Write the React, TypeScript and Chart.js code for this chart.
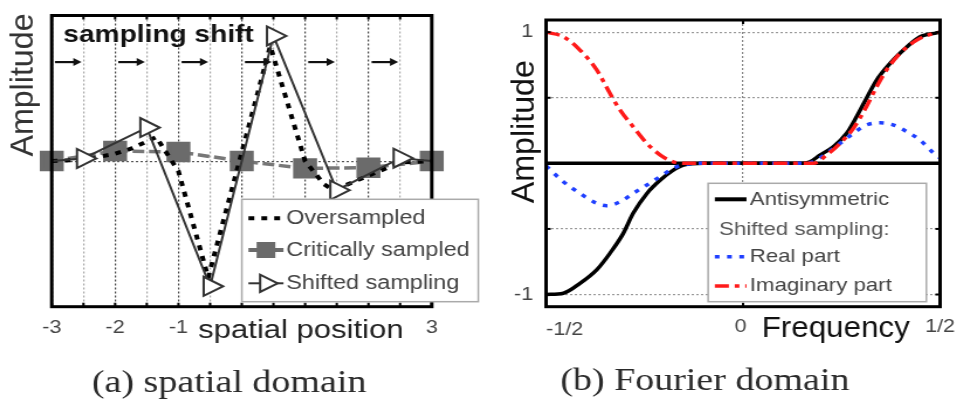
import React, { useEffect, useRef } from "react";
import { Chart, registerables } from "chart.js";

Chart.register(...registerables);

// ---------- (a) spatial domain ----------
const criticalX = [-3, -2, -1, 0, 1, 2, 3];
const criticalY = [0, 0.07, 0.063, 0, -0.05, -0.045, 0];
const shiftedX = [-3, -2.5, -1.5, -0.5, 0.5, 1.5, 2.5, 3];
const shiftedY = [0, 0.018, 0.23, -0.86, 0.86, -0.2, 0.02, 0];
const shiftedMarked = [false, true, true, true, true, true, true, false];
const overX = [-3, -2.5, -2, -1.75, -1.35, -1, -0.53, 0.45, 1, 1.3, 1.45, 2, 2.5, 3];
const overY = [0, 0.01, 0.05, 0.085, 0.165, -0.07, -0.8, 0.79, 0, -0.16, -0.2, -0.1, -0.01, 0];
const arrowFrom = [-2.95, -1.95, -0.95, 0.05, 1.05, 2.05];
const arrowTo = [-2.53, -1.53, -0.53, 0.47, 1.47, 2.47];
const arrowLevel = 0.68;
const spatialTickValues = [-3, -2, -1, 3];
const spatialTickLabels = ["-3", "-2", "-1", "3"];
const spatialLegend = ["Oversampled", "Critically sampled", "Shifted sampling"];

// ---------- (b) Fourier domain ----------
const antiX = [-0.5, -0.456, -0.414, -0.371, -0.338, -0.304, -0.279, -0.244, -0.21, -0.177, -0.151, -0.1, 0, 0.1, 0.15, 0.17, 0.195, 0.229, 0.263, 0.288, 0.313, 0.339, 0.373, 0.407, 0.449, 0.492, 0.5];
const antiY = [-1, -0.99, -0.915, -0.81, -0.686, -0.534, -0.381, -0.229, -0.127, -0.051, -0.013, 0, 0, 0, 0, 0.012, 0.063, 0.127, 0.229, 0.355, 0.495, 0.635, 0.762, 0.864, 0.965, 0.995, 1];
const realX = [-0.5, -0.456, -0.414, -0.371, -0.346, -0.312, -0.279, -0.244, -0.21, -0.177, -0.151, -0.1, 0, 0.1, 0.15, 0.178, 0.212, 0.246, 0.28, 0.313, 0.348, 0.382, 0.416, 0.449, 0.483, 0.5];
const realY = [-0.02, -0.14, -0.229, -0.305, -0.323, -0.293, -0.229, -0.165, -0.1, -0.038, -0.01, 0, 0, 0, 0, 0.012, 0.076, 0.152, 0.229, 0.292, 0.309, 0.292, 0.241, 0.178, 0.08, 0.04];
const imagX = [-0.5, -0.456, -0.414, -0.371, -0.338, -0.312, -0.279, -0.244, -0.21, -0.177, -0.15, -0.1, 0, 0.1, 0.15, 0.178, 0.212, 0.246, 0.28, 0.313, 0.339, 0.364, 0.398, 0.441, 0.483, 0.5];
const imagY = [1.0, 0.965, 0.864, 0.711, 0.534, 0.406, 0.279, 0.152, 0.063, 0.012, 0, 0, 0, 0, 0, 0, 0.063, 0.152, 0.267, 0.431, 0.584, 0.711, 0.838, 0.94, 0.99, 1.0];
const freqTickValues = [-0.5, 0, 0.5];
const freqTickLabels = ["-1/2", "0", "1/2"];
const ampTickValues = [1, -1];
const ampTickLabels = ["1", "-1"];
const ampGridValues = [-1, -0.5, 0, 0.5, 1];
const fourierLegend = ["Antisymmetric", "Shifted sampling:", "Real part", "Imaginary part"];

const SX = 1.17; // horizontal stretch of the figure
const SANS = '"Liberation Sans", Arial, sans-serif';
const SERIF = '"Liberation Serif", "Times New Roman", serif';
const BLUE_DASH = [4, 6.5];
const RED_DASH = [12, 5, 4, 5];

const pts = (xs: number[], ys: number[]) => xs.map((x, i) => ({ x, y: ys[i] }));

function txt(ctx: CanvasRenderingContext2D, s: string, x: number, y: number, o: any) {
  ctx.save();
  ctx.translate(x, y);
  if (o.rot) ctx.rotate(o.rot);
  ctx.scale(o.sx ?? 1, 1);
  ctx.font = o.font;
  ctx.fillStyle = o.color ?? "#222";
  ctx.textAlign = o.align ?? "left";
  ctx.textBaseline = o.base ?? "alphabetic";
  ctx.fillText(s, 0, 0);
  ctx.restore();
}

function seg(ctx: CanvasRenderingContext2D, x1: number, y1: number, x2: number, y2: number, color: string, w: number, dash: number[] = []) {
  ctx.save();
  ctx.strokeStyle = color;
  ctx.lineWidth = w;
  ctx.setLineDash(dash);
  ctx.beginPath();
  ctx.moveTo(x1, y1);
  ctx.lineTo(x2, y2);
  ctx.stroke();
  ctx.restore();
}

const leftPlugin = {
  id: "leftDeco",
  afterDatasetsDraw(chart: any) {
    const { ctx, chartArea: a, scales } = chart;
    const xs = scales.x;
    const ys = scales.y;
    ctx.save();
    for (const t of xs.ticks) {
      const px = xs.getPixelForValue(t.value);
      seg(ctx, px, a.bottom, px, a.bottom - 4, "#000", 2);
      seg(ctx, px, a.top, px, a.top + 4, "#000", 2);
    }
    ctx.strokeStyle = "#000";
    ctx.lineWidth = 3;
    ctx.setLineDash([]);
    ctx.strokeRect(a.left, a.top, a.right - a.left, a.bottom - a.top);
    const ay = ys.getPixelForValue(arrowLevel);
    arrowFrom.forEach((f, i) => {
      const x1 = xs.getPixelForValue(f);
      const x2 = xs.getPixelForValue(arrowTo[i]);
      seg(ctx, x1, ay, x2 - 5, ay, "#111", 2.2);
      ctx.fillStyle = "#111";
      ctx.beginPath();
      ctx.moveTo(x2, ay);
      ctx.lineTo(x2 - 7, ay - 4);
      ctx.lineTo(x2 - 7, ay + 4);
      ctx.closePath();
      ctx.fill();
    });
    txt(ctx, "sampling shift", 63.3 / SX, 41.7, { font: `bold 24px ${SANS}`, color: "#111" });

    const L = 241.7 / SX, R = 478 / SX, T = 199.3, B = 301.7;
    ctx.fillStyle = "#fff";
    ctx.fillRect(L, T, R - L, B - T);
    ctx.strokeStyle = "#aaa";
    ctx.lineWidth = 1.5;
    ctx.strokeRect(L, T, R - L, B - T);
    const sx1 = 248.3 / SX, sx2 = 283.3 / SX, tx = 286 / SX;
    const ey = [218.3, 250, 283.3];
    const cx = (sx1 + sx2) / 2;
    seg(ctx, sx1, ey[0], sx2, ey[0], "#000", 4, [5, 6]);
    seg(ctx, sx1, ey[1], sx2, ey[1], "#6b6b6b", 4);
    ctx.fillStyle = "#6b6b6b";
    ctx.fillRect(cx - 8, ey[1] - 8, 16, 16);
    seg(ctx, sx1, ey[2], sx2, ey[2], "#333", 2);
    ctx.beginPath();
    const r = 10;
    ctx.moveTo(cx + r, ey[2]);
    ctx.lineTo(cx - r / 2, ey[2] - r * 0.866);
    ctx.lineTo(cx - r / 2, ey[2] + r * 0.866);
    ctx.closePath();
    ctx.fillStyle = "#fff";
    ctx.fill();
    ctx.strokeStyle = "#333";
    ctx.lineWidth = 2;
    ctx.stroke();
    spatialLegend.forEach((s, i) =>
      txt(ctx, s, tx, ey[i], { font: `20px ${SANS}`, color: "#444", base: "middle" })
    );

    spatialTickValues.forEach((v, i) =>
      txt(ctx, spatialTickLabels[i], xs.getPixelForValue(v), 333, { font: `18.5px ${SANS}`, color: "#444", align: "center" })
    );
    txt(ctx, "spatial position", 300.7 / SX, 337.5, { font: `26.5px ${SANS}`, color: "#222", align: "center" });
    txt(ctx, "Amplitude", 33.3 / SX, 85, { font: `28px ${SANS}`, color: "#333", align: "center", rot: -Math.PI / 2, sx: 1.15 });
    txt(ctx, "(a) spatial domain", 229 / SX, 391.5, { font: `32.5px ${SERIF}`, color: "#2a2a2a", align: "center" });
    ctx.restore();
  },
};

const rightPlugin = {
  id: "rightDeco",
  beforeDatasetsDraw(chart: any) {
    const { ctx, chartArea: a, scales } = chart;
    const y0 = scales.y.getPixelForValue(0);
    seg(ctx, a.left, y0, a.right, y0, "#000", 3.5);
  },
  afterDatasetsDraw(chart: any) {
    const { ctx, chartArea: a, scales } = chart;
    const xs = scales.x;
    const ys = scales.y;
    ctx.save();
    for (const v of ampGridValues) {
      const py = ys.getPixelForValue(v);
      seg(ctx, a.left, py, a.left + 4, py, "#000", 2);
      seg(ctx, a.right, py, a.right - 4, py, "#000", 2);
    }
    const p0 = xs.getPixelForValue(0);
    seg(ctx, p0, a.bottom, p0, a.bottom - 4, "#000", 2);
    seg(ctx, p0, a.top, p0, a.top + 4, "#000", 2);
    ctx.strokeStyle = "#000";
    ctx.lineWidth = 3;
    ctx.setLineDash([]);
    ctx.strokeRect(a.left, a.top, a.right - a.left, a.bottom - a.top);

    const off = 480;
    const L = (708.3 - off) / SX, R = (926.7 - off) / SX, T = 183.3, B = 301.7;
    ctx.fillStyle = "#fff";
    ctx.fillRect(L, T, R - L, B - T);
    ctx.strokeStyle = "#aaa";
    ctx.lineWidth = 1.5;
    ctx.strokeRect(L, T, R - L, B - T);
    const sx1 = (715 - off) / SX, sx2 = (746.7 - off) / SX, tx = (750 - off) / SX;
    const ey = [199.3, 229.3, 256.7, 286];
    seg(ctx, sx1, ey[0], sx2, ey[0], "#000", 4);
    seg(ctx, sx1, ey[2], sx2, ey[2], "#1f3fff", 3.5, BLUE_DASH);
    seg(ctx, sx1, ey[3], sx2, ey[3], "#ff1a1a", 3.5, RED_DASH);
    txt(ctx, fourierLegend[0], tx, ey[0], { font: `19px ${SANS}`, color: "#444", base: "middle" });
    txt(ctx, fourierLegend[1], (719.3 - off) / SX, ey[1], { font: `19px ${SANS}`, color: "#555", base: "middle" });
    txt(ctx, fourierLegend[2], tx, ey[2], { font: `19px ${SANS}`, color: "#444", base: "middle" });
    txt(ctx, fourierLegend[3], tx, ey[3], { font: `19px ${SANS}`, color: "#444", base: "middle" });

    freqTickValues.forEach((v, i) => {
      const align = i === 0 ? "left" : "center";
      const by = i === 0 ? 335 : 331.7;
      txt(ctx, freqTickLabels[i], xs.getPixelForValue(v) - (i === 1 ? 2 : 0), by, { font: `18.5px ${SANS}`, color: "#444", align });
    });
    ampTickValues.forEach((v, i) =>
      txt(ctx, ampTickLabels[i], (533.3 - off) / SX, ys.getPixelForValue(v), { font: `18.5px ${SANS}`, color: "#444", align: "right", base: "middle" })
    );
    txt(ctx, "Frequency", (836 - off) / SX, 336.7, { font: `30px ${SANS}`, color: "#111", align: "center", sx: 0.894 });
    txt(ctx, "Amplitude", (533.3 - off) / SX, 131.7, { font: `28px ${SANS}`, color: "#111", align: "center", rot: -Math.PI / 2, sx: 1.15 });
    txt(ctx, "(b) Fourier domain", (705 - off) / SX, 390, { font: `32.5px ${SERIF}`, color: "#2a2a2a", align: "center" });
    ctx.restore();
  },
};

function leftConfig(): any {
  return {
    type: "line",
    data: {
      datasets: [
        {
          label: spatialLegend[2],
          data: pts(shiftedX, shiftedY),
          borderColor: "#333",
          borderWidth: 2,
          pointStyle: "triangle",
          pointRotation: 90,
          pointRadius: shiftedMarked.map((m) => (m ? 11 : 0)),
          pointBackgroundColor: "#fff",
          pointBorderColor: "#333",
          pointBorderWidth: 2,
          tension: 0,
          clip: false,
          order: 0,
        },
        {
          label: spatialLegend[0],
          data: pts(overX, overY),
          borderColor: "#000",
          borderWidth: 4,
          borderDash: [5, 6],
          pointRadius: 0,
          tension: 0,
          clip: false,
          order: 1,
        },
        {
          label: spatialLegend[1],
          data: pts(criticalX, criticalY),
          borderColor: "#777",
          borderWidth: 3.5,
          borderDash: [10, 4],
          pointStyle: "rect",
          pointRadius: 12,
          pointBackgroundColor: "#6b6b6b",
          pointBorderColor: "#6b6b6b",
          tension: 0,
          clip: false,
          order: 2,
        },
      ],
    },
    options: {
      responsive: false,
      maintainAspectRatio: false,
      animation: false,
      events: [],
      layout: { padding: { left: 44.2, right: 41.2, top: 11, bottom: 96.3 } },
      plugins: { legend: { display: false }, tooltip: { enabled: false } },
      scales: {
        x: {
          type: "linear",
          min: -3,
          max: 3,
          ticks: { display: false, stepSize: 0.5 },
          grid: {
            drawTicks: false,
            lineWidth: 1.2,
            color: (c: any) => (c.tick && Number.isInteger(c.tick.value) ? "#444" : "#aaa"),
          },
          border: { display: false, dash: [2, 2] },
        },
        y: {
          type: "linear",
          min: -1,
          max: 1,
          afterBuildTicks: (s: any) => {
            s.ticks = [{ value: 0 }];
          },
          ticks: { display: false },
          grid: { drawTicks: false, lineWidth: 1.2, color: "#555" },
          border: { display: false, dash: [2, 2] },
        },
      },
    },
    plugins: [leftPlugin],
  };
}

function rightConfig(): any {
  return {
    type: "line",
    data: {
      datasets: [
        {
          label: fourierLegend[3],
          data: pts(imagX, imagY),
          borderColor: "#ff1a1a",
          borderWidth: 3.5,
          borderDash: RED_DASH,
          pointRadius: 0,
          cubicInterpolationMode: "monotone",
          order: 0,
        },
        {
          label: fourierLegend[2],
          data: pts(realX, realY),
          borderColor: "#1f3fff",
          borderWidth: 3.5,
          borderDash: BLUE_DASH,
          pointRadius: 0,
          cubicInterpolationMode: "monotone",
          order: 1,
        },
        {
          label: fourierLegend[0],
          data: pts(antiX, antiY),
          borderColor: "#000",
          borderWidth: 3.5,
          pointRadius: 0,
          cubicInterpolationMode: "monotone",
          order: 2,
        },
      ],
    },
    options: {
      responsive: false,
      maintainAspectRatio: false,
      animation: false,
      events: [],
      layout: { padding: { left: 56.5, right: 14.5, top: 20, bottom: 96.3 } },
      plugins: { legend: { display: false }, tooltip: { enabled: false } },
      scales: {
        x: {
          type: "linear",
          min: -0.5,
          max: 0.5,
          ticks: { display: false, stepSize: 0.5 },
          grid: {
            drawTicks: false,
            lineWidth: 1.2,
            color: (c: any) => (c.tick && c.tick.value === 0 ? "#888" : "rgba(0,0,0,0)"),
          },
          border: { display: false, dash: [2, 2] },
        },
        y: {
          type: "linear",
          min: -1.093,
          max: 1.093,
          afterBuildTicks: (s: any) => {
            s.ticks = ampGridValues.map((v) => ({ value: v }));
          },
          ticks: { display: false },
          grid: {
            drawTicks: false,
            lineWidth: 1.2,
            color: (c: any) => (c.tick && c.tick.value === 0 ? "rgba(0,0,0,0)" : "#999"),
          },
          border: { display: false, dash: [2, 2] },
        },
      },
    },
    plugins: [rightPlugin],
  };
}

export default function App() {
  const leftRef = useRef<HTMLCanvasElement>(null);
  const rightRef = useRef<HTMLCanvasElement>(null);
  useEffect(() => {
    const c1 = new Chart(leftRef.current as HTMLCanvasElement, leftConfig());
    const c2 = new Chart(rightRef.current as HTMLCanvasElement, rightConfig());
    return () => {
      c1.destroy();
      c2.destroy();
    };
  }, []);
  return (
    <div style={{ position: "fixed", left: 0, top: 0, width: 957, height: 403, background: "#fff", overflow: "hidden" }}>
      <canvas
        ref={leftRef}
        width={410}
        height={403}
        style={{ position: "absolute", left: 0, top: 0, width: "480px", height: "403px" }}
      />
      <canvas
        ref={rightRef}
        width={408}
        height={403}
        style={{ position: "absolute", left: "480px", top: 0, width: "477px", height: "403px" }}
      />
    </div>
  );
}
